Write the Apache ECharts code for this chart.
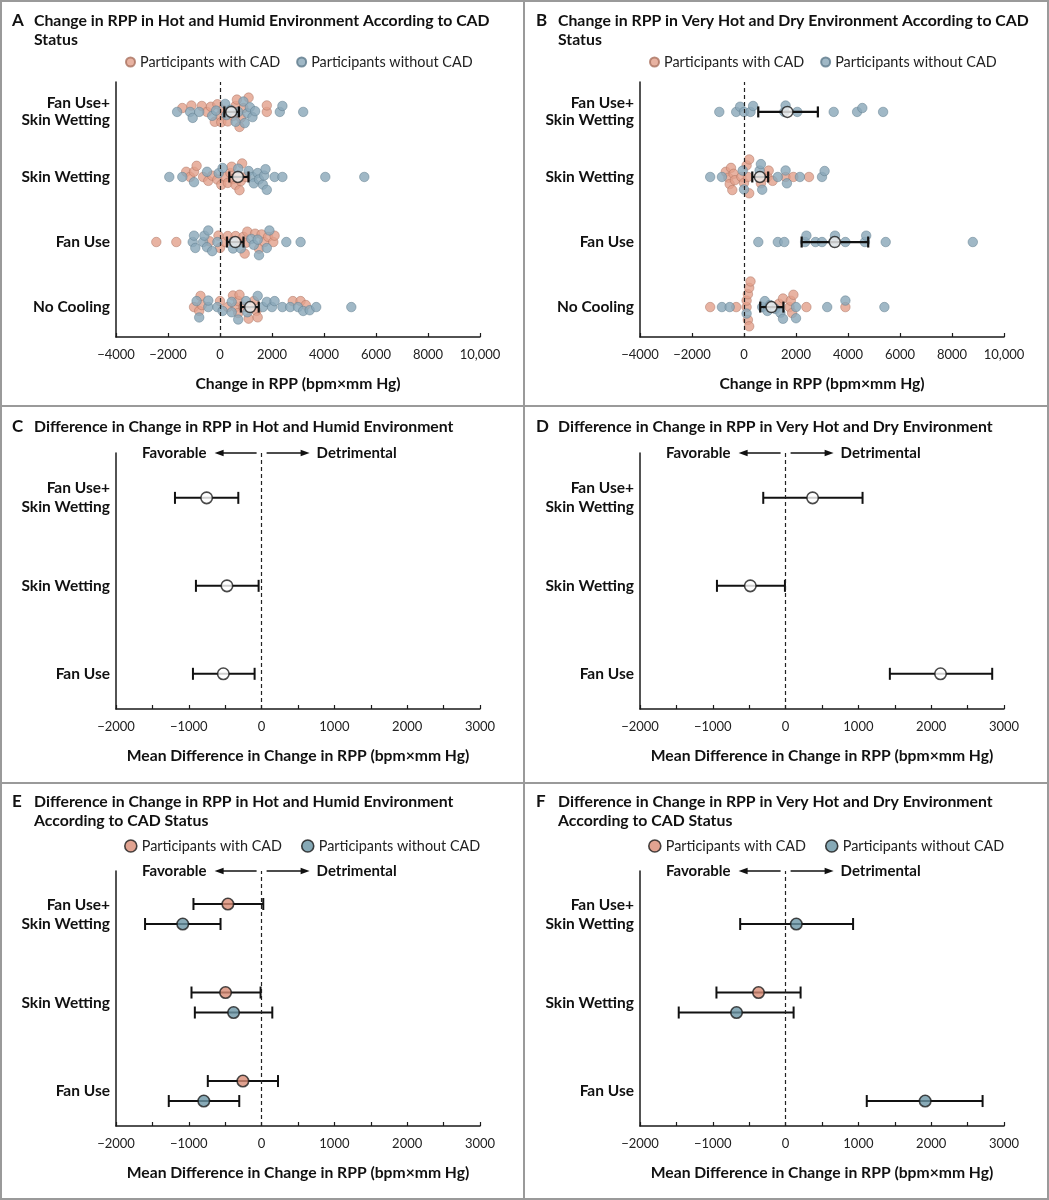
<!DOCTYPE html>
<html>
<head>
<meta charset="utf-8">
<script src="https://cdn.jsdelivr.net/npm/echarts@6/dist/echarts.min.js"></script>
<style>
  html, body { margin: 0; padding: 0; background: #fff; }
  #chart { width: 1049px; height: 1200px; }
</style>
</head>
<body>
<div id="chart"></div>
<script>
const FONT = 'Lato, "Open Sans", sans-serif';
const CAD = 'Participants with CAD';
const NOCAD = 'Participants without CAD';

// rows are listed bottom to top
const rowsAB = ['No Cooling', 'Fan Use', 'Skin Wetting', 'Fan Use+\nSkin Wetting'];
const rowsCF = ['Fan Use', 'Skin Wetting', 'Fan Use+\nSkin Wetting'];

// individual changes in RPP (bpm x mm Hg), per row of rowsAB
const humidCad = [
  [-1000, -800, -750, -700, 0, 300, 500, 600, 700, 700, 750, 900, 1100, 1200, 1300, 1400, 1450, 2800, 3100, 3300],
  [-2450, -1680, -400, -60, 0, 200, 300, 600, 750, 900, 950, 1000, 1050, 1350, 1500, 1600, 1700, 1850, 2050, 2100],
  [-1300, -1150, -1000, -900, -650, -450, -300, -100, 50, 200, 300, 400, 450, 500, 600, 700, 750, 800, 850, 1000],
  [-1450, -1100, -700, -500, -350, -200, -100, 0, 50, 100, 300, 500, 600, 650, 750, 800, 900, 1100, 1800, 1800]
];
const humidNoCad = [
  [-900, -800, -450, -450, -100, 100, 450, 450, 700, 1000, 1050, 1450, 1650, 1800, 2000, 2100, 2400, 2700, 3000, 3200, 3450, 3700, 5050],
  [-1050, -1000, -950, -650, -600, -500, -450, -300, -100, 500, 500, 800, 1200, 1300, 1450, 1500, 1800, 1900, 2550, 3100],
  [-1950, -1450, -1000, -500, -50, 100, 700, 1100, 1250, 1300, 1450, 1500, 1650, 1700, 1750, 1800, 2100, 2400, 4050, 5550],
  [-1650, -1150, -1050, -800, -300, -150, 200, 250, 400, 600, 700, 900, 950, 1050, 1150, 1250, 1350, 2300, 2400, 3200]
];
const dryCad = [
  [-1300, -300, 100, 100, 150, 150, 200, 200, 250, 1350, 1500, 1750, 1800, 1850, 1900, 2400, 3900],
  [],
  [-700, -600, -550, -500, -450, -400, -350, -100, 0, 100, 150, 200, 200, 600, 650, 900, 950, 1100, 1600, 1900, 2500],
  []
];
const dryNoCad = [
  [-850, -550, 100, 700, 800, 900, 1000, 1200, 1400, 1500, 2000, 2000, 3200, 3900, 5400],
  [550, 1300, 1550, 2350, 2400, 2750, 3000, 3450, 3500, 3900, 4650, 4700, 5450, 8800],
  [-1300, -850, -50, 0, 600, 650, 700, 1300, 1600, 1650, 2150, 3000, 3100],
  [-950, -300, -150, 0, 250, 350, 1550, 1600, 2050, 3450, 4350, 4550, 5350]
];

// [mean, lower, upper] per row
const humidMean = [[1159, 803, 1490], [586, 268, 904], [688, 357, 1096], [433, 166, 726]];
const dryMean = [[1057, 624, 1516], [3490, 2217, 4777], [611, 318, 930], [1669, 548, 2841]];

// mean differences [mean, lower, upper] per row of rowsCF
const humidDiff = [[-526, -943, -96], [-476, -902, -41], [-755, -1190, -320]];
const dryDiff = [[2128, 1432, 2838], [-485, -943, -9], [371, -307, 1057]];
const humidDiffCad = [[-257, -739, 225], [-495, -963, -14], [-463, -936, 23]];
const humidDiffNoCad = [[-794, -1275, -307], [-385, -917, 147], [-1083, -1601, -564]];
const dryDiffCad = [null, [-372, -950, 206], null];
const dryDiffNoCad = [[1917, 1115, 2706], [-674, -1468, 110], [147, -624, 927]];

const titles = [
  ['A', 'Change in RPP in Hot and Humid Environment According to CAD\nStatus'],
  ['B', 'Change in RPP in Very Hot and Dry Environment According to CAD\nStatus'],
  ['C', 'Difference in Change in RPP in Hot and Humid Environment'],
  ['D', 'Difference in Change in RPP in Very Hot and Dry Environment'],
  ['E', 'Difference in Change in RPP in Hot and Humid Environment\nAccording to CAD Status'],
  ['F', 'Difference in Change in RPP in Very Hot and Dry Environment\nAccording to CAD Status']
];

const grids = [
  { left: 116, top: 82, width: 364, height: 255 },
  { left: 640, top: 82, width: 364, height: 255 },
  { left: 116, top: 453, width: 364, height: 256 },
  { left: 640, top: 453, width: 364, height: 256 },
  { left: 116, top: 871, width: 364, height: 255 },
  { left: 640, top: 871, width: 364, height: 255 }
];
const yRange = [[-0.46, 3.46], [-0.46, 3.46], [-0.4, 2.51], [-0.4, 2.51], [-0.395, 2.486], [-0.395, 2.486]];

const minus = v => (v < 0 ? '\u2212' + Math.abs(v) : String(v));
const fmtAB = v => (v === 10000 ? '10,000' : minus(v));
const fmtCF = v => (v % 1000 === 0 ? minus(v) : '');

const dotCad = { color: '#e2a08b', opacity: 0.8, borderColor: '#a9705e', borderWidth: 0.6 };
const dotNoCad = { color: '#8ba8b9', opacity: 0.82, borderColor: '#5f7b8c', borderWidth: 0.6 };
const markCad = { color: '#d98c76', borderColor: '#1a1a1a', borderWidth: 1.6 };
const markNoCad = { color: '#6b96a6', borderColor: '#1a1a1a', borderWidth: 1.6 };
const markOpen = { color: '#ffffff', borderColor: '#1a1a1a', borderWidth: 1.6 };

// simple beeswarm, offsets in pixels
function swarm(points, pxPerX, diam) {
  const placed = [];
  points.slice().sort((a, b) => a.x - b.x).forEach(p => {
    p.px = p.x * pxPerX;
    const near = placed.filter(q => Math.abs(q.px - p.px) < diam);
    const cands = [0];
    near.forEach(q => {
      const h = Math.sqrt(diam * diam - (q.px - p.px) ** 2);
      cands.push(q.dy + h, q.dy - h);
    });
    cands.sort((a, b) => Math.abs(a) - Math.abs(b));
    p.dy = cands.find(c => near.every(q => (q.px - p.px) ** 2 + (q.dy - c) ** 2 >= diam * diam - 0.01));
    placed.push(p);
  });
  return points;
}

function errorBar(capHalf, lw) {
  return function (params, api) {
    const y = api.value(0);
    const a = api.coord([api.value(1), y]);
    const b = api.coord([api.value(3), y]);
    const st = { stroke: '#111', lineWidth: lw };
    return {
      type: 'group',
      children: [
        { type: 'line', shape: { x1: a[0], y1: a[1], x2: b[0], y2: b[1] }, style: st },
        { type: 'line', shape: { x1: a[0], y1: a[1] - capHalf, x2: a[0], y2: a[1] + capHalf }, style: st },
        { type: 'line', shape: { x1: b[0], y1: b[1] - capHalf, x2: b[0], y2: b[1] + capHalf }, style: st }
      ]
    };
  };
}

const zeroLine = {
  silent: true,
  symbol: 'none',
  label: { show: false },
  lineStyle: { type: [4, 3], color: '#222', width: 1.2 },
  data: [{ xAxis: 0 }]
};

const series = [];

function addScatterPanel(i, cadRows, noCadRows, means) {
  const pxPerX = grids[i].width / 14000;
  const pxPerRow = grids[i].height / (yRange[i][1] - yRange[i][0]);
  const cadData = [], noData = [];
  rowsAB.forEach((_, r) => {
    const pts = cadRows[r].map(x => ({ x, g: 0 })).concat(noCadRows[r].map(x => ({ x, g: 1 })));
    swarm(pts, pxPerX, 6.5);
    pts.forEach(p => (p.g ? noData : cadData).push([p.x, r + p.dy / pxPerRow]));
  });
  series.push({ name: CAD, type: 'scatter', xAxisIndex: i, yAxisIndex: i, data: cadData,
    symbolSize: 9.5, itemStyle: dotCad, z: 2, markLine: zeroLine });
  series.push({ name: NOCAD, type: 'scatter', xAxisIndex: i, yAxisIndex: i, data: noData,
    symbolSize: 9.5, itemStyle: dotNoCad, z: 2 });
  series.push({ type: 'custom', xAxisIndex: i, yAxisIndex: i, z: 3,
    renderItem: errorBar(5.5, 2.2), encode: { x: [1, 2, 3], y: 0 },
    data: means.map((m, r) => [r, m[1], m[0], m[2]]) });
  series.push({ type: 'scatter', xAxisIndex: i, yAxisIndex: i, z: 4, symbolSize: 11,
    itemStyle: { color: '#f3f3f3', borderColor: '#1a1a1a', borderWidth: 1.5 },
    data: means.map((m, r) => [m[0], r]) });
}

function addDiff(i, rows, offsetPx, name, style, withZero) {
  const pxPerRow = grids[i].height / (yRange[i][1] - yRange[i][0]);
  const dy = offsetPx / pxPerRow;
  const bars = [], pts = [];
  rows.forEach((m, r) => {
    if (!m) return;
    bars.push([r + dy, m[1], m[0], m[2]]);
    pts.push([m[0], r + dy]);
  });
  series.push({ type: 'custom', xAxisIndex: i, yAxisIndex: i, z: 3,
    renderItem: errorBar(6, 2), encode: { x: [1, 2, 3], y: 0 }, data: bars,
    markLine: withZero ? zeroLine : undefined });
  series.push({ name: name, type: 'scatter', xAxisIndex: i, yAxisIndex: i, z: 4,
    symbolSize: 11.5, itemStyle: style, data: pts });
}

addScatterPanel(0, humidCad, humidNoCad, humidMean);
addScatterPanel(1, dryCad, dryNoCad, dryMean);
addDiff(2, humidDiff, 0, undefined, markOpen, true);
addDiff(3, dryDiff, 0, undefined, markOpen, true);
addDiff(4, humidDiffCad, 10, CAD, markCad, true);
addDiff(4, humidDiffNoCad, -10, NOCAD, markNoCad, false);
addDiff(5, dryDiffCad, 10, CAD, markCad, true);
addDiff(5, dryDiffNoCad, -10, NOCAD, markNoCad, false);

const xAxes = grids.map((g, i) => ({
  gridIndex: i,
  type: 'value',
  min: i < 2 ? -4000 : -2000,
  max: i < 2 ? 10000 : 3000,
  interval: i < 2 ? 2000 : 500,
  axisLine: { onZero: false, lineStyle: { color: '#1a1a1a', width: 1.5 } },
  axisTick: { inside: true, length: 4, lineStyle: { color: '#1a1a1a', width: 1.2 } },
  splitLine: { show: false },
  axisLabel: { formatter: i < 2 ? fmtAB : fmtCF, fontFamily: FONT, fontSize: 13, color: '#222', margin: 11 },
  name: i < 2 ? 'Change in RPP (bpm\u00d7mm Hg)' : 'Mean Difference in Change in RPP (bpm\u00d7mm Hg)',
  nameLocation: 'middle',
  nameGap: 39,
  nameTextStyle: { fontFamily: FONT, fontWeight: 'bold', fontSize: 15.7, color: '#111' }
}));

const yAxes = grids.map((g, i) => {
  const rows = i < 2 ? rowsAB : rowsCF;
  return {
    gridIndex: i,
    type: 'value',
    min: yRange[i][0],
    max: yRange[i][1],
    axisLine: { show: true, onZero: false, lineStyle: { color: '#1a1a1a', width: 1.5 } },
    axisTick: { show: false },
    splitLine: { show: false },
    axisLabel: {
      customValues: rows.map((_, r) => r),
      formatter: v => rows[Math.round(v)],
      fontFamily: FONT, fontWeight: 'bold', fontSize: 15.5, color: '#111',
      lineHeight: i < 2 ? 17 : 19, margin: 6, align: 'right'
    }
  };
});

const titleTop = [11, 11, 417, 417, 792, 792];
const title = [];
titles.forEach((t, i) => {
  const x0 = i % 2 ? 524 : 0;
  title.push({ text: t[0], left: x0 + 12, top: titleTop[i], padding: 0,
    textStyle: { fontFamily: FONT, fontWeight: 'bold', fontSize: 17, lineHeight: 19, color: '#111' } });
  title.push({ text: t[1], left: x0 + 34, top: titleTop[i], padding: 0,
    textStyle: { fontFamily: FONT, fontWeight: 'bold', fontSize: 15.8, lineHeight: 19, color: '#111' } });
});

const legendText = { fontFamily: FONT, fontSize: 14.4, color: '#222' };
const legend = [
  { left: 125, top: 55, padding: 0, icon: 'circle', itemWidth: 9, itemHeight: 9, itemGap: 16, data: [CAD, NOCAD], textStyle: legendText },
  { left: 649, top: 55, padding: 0, icon: 'circle', itemWidth: 9, itemHeight: 9, itemGap: 16, data: [CAD, NOCAD], textStyle: legendText },
  { left: 124, top: 839, padding: 0, icon: 'circle', itemWidth: 12, itemHeight: 12, itemGap: 19, textStyle: legendText,
    data: [{ name: CAD, itemStyle: markCad }, { name: NOCAD, itemStyle: markNoCad }] },
  { left: 648, top: 839, padding: 0, icon: 'circle', itemWidth: 12, itemHeight: 12, itemGap: 19, textStyle: legendText,
    data: [{ name: CAD, itemStyle: markCad }, { name: NOCAD, itemStyle: markNoCad }] }
];

const chart = echarts.init(document.getElementById('chart'));
chart.setOption({
  animation: false,
  backgroundColor: '#fff',
  title: title,
  legend: legend,
  grid: grids,
  xAxis: xAxes,
  yAxis: yAxes,
  series: series
});

// panel frames and the favorable / detrimental arrows
const frame = { fill: 'none', stroke: '#9a9a9a', lineWidth: 2 };
const graphic = [
  { type: 'rect', shape: { x: 1, y: 1, width: 1047, height: 1198 }, style: frame },
  { type: 'line', shape: { x1: 524, y1: 0, x2: 524, y2: 1200 }, style: frame },
  { type: 'line', shape: { x1: 0, y1: 406, x2: 1049, y2: 406 }, style: frame },
  { type: 'line', shape: { x1: 0, y1: 783, x2: 1049, y2: 783 }, style: frame }
];
[2, 3, 4, 5].forEach(i => {
  const x0 = chart.convertToPixel({ xAxisIndex: i }, 0);
  const y = grids[i].top;
  const ln = { stroke: '#111', lineWidth: 1.3 };
  const txt = { fontFamily: FONT, fontWeight: 'bold', fontSize: 15, fill: '#111', verticalAlign: 'middle' };
  graphic.push(
    { type: 'line', shape: { x1: x0 - 5, y1: y, x2: x0 - 40, y2: y }, style: ln },
    { type: 'polygon', shape: { points: [[x0 - 47, y], [x0 - 38, y - 3.2], [x0 - 38, y + 3.2]] }, style: { fill: '#111' } },
    { type: 'text', x: x0 - 55, y: y, style: Object.assign({ text: 'Favorable', align: 'right' }, txt) },
    { type: 'line', shape: { x1: x0 + 5, y1: y, x2: x0 + 41, y2: y }, style: ln },
    { type: 'polygon', shape: { points: [[x0 + 48, y], [x0 + 39, y - 3.2], [x0 + 39, y + 3.2]] }, style: { fill: '#111' } },
    { type: 'text', x: x0 + 55, y: y, style: Object.assign({ text: 'Detrimental', align: 'left' }, txt) }
  );
});
chart.setOption({ graphic: graphic });
</script>
</body>
</html>
